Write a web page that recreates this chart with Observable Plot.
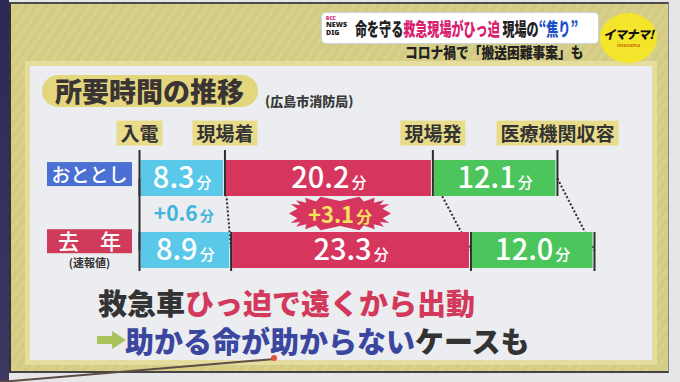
<!DOCTYPE html>
<html lang="ja">
<head>
<meta charset="utf-8">
<script src="https://cdn.jsdelivr.net/npm/d3@7"></script>
<script src="https://cdn.jsdelivr.net/npm/@observablehq/plot@0.6"></script>
<style>
  html, body { margin: 0; padding: 0; background: #e6e6e8; overflow: hidden; }
  #stage { position: relative; width: 680px; height: 382px; overflow: hidden;
    font-family: "Noto Sans CJK JP", "Noto Sans", sans-serif; background: #e6e6e8; }
  #stage > div { position: absolute; }
  .studioL { left: 0; top: 0; width: 9px; height: 382px; background: linear-gradient(#2b2a55, #3d3762); }
  .board { left: 9px; top: 2px; width: 660px; height: 371px; box-sizing: border-box;
    background: repeating-linear-gradient(125deg, #d8d08a 0 4px, #d3cb84 4px 8px);
    border-top: 2px solid #4a4a48; border-left: 2px solid #333; border-bottom: 2px solid #444; border-right: 1px solid #888; }
  .panelFrame { left: 25px; top: 61px; width: 632px; height: 304px; background: #e4dd9e; }
  .panel { left: 30px; top: 66px; width: 622px; height: 294px; background: #ebedf0; }
  .banner { left: 322px; top: 13px; width: 276px; height: 30px; background: #fff; border-radius: 4px;
    box-shadow: 0 0 0 1px #c9d4e4; }
  .logo { position: absolute; left: 4px; top: 2px; font: 900 7px/8px "Noto Sans", sans-serif; color: #222; }
  .logo .rcc { color: #d8206e; font-size: 5px; line-height: 6px; }
  .btxt { position: absolute; left: 33px; top: 2px; font-size: 18px; font-weight: 900; line-height: 26px;
    white-space: nowrap; transform: scaleX(0.67); transform-origin: left center; }
  .sub { left: 405px; top: 43px; font-size: 15px; font-weight: 900; line-height: 18px; color: #222;
    white-space: nowrap; transform: scaleX(0.85); transform-origin: left center; }
  .imanama { left: 600px; top: 13px; width: 57px; height: 50px; border-radius: 50%; background: #f3e52c; text-align: center; }
  .imanama .im { margin-top: 14px; font-size: 12px; font-weight: 900; font-style: italic; line-height: 14px; color: #111;
    white-space: nowrap; letter-spacing: -0.5px; }
  .imanama .ims { margin-top: 1px; font-size: 5px; line-height: 6px; color: #d07000; font-weight: 700; white-space: nowrap; }
  .pill { left: 42px; top: 75px; width: 216px; height: 32px; border-radius: 16px; background: #e4d67c;
    box-sizing: border-box; padding-left: 13px; font-size: 27px; font-weight: 900; line-height: 32px; color: #3b3434; white-space: nowrap; }
  .src { left: 265px; top: 92px; font-size: 13px; font-weight: 900; line-height: 18px; color: #3a3a3a; white-space: nowrap; }
  #chart { left: 0; top: 0; width: 680px; height: 382px; }
  #chart svg { background: transparent !important; overflow: visible; max-width: none; }
  .msg { font-size: 29px; font-weight: 900; line-height: 34px; white-space: nowrap; }
  .msg1 { left: 98px; top: 285px; }
  .msg2 { left: 125px; top: 323px; }
  .arrow { left: 97px; top: 331px; width: 29px; height: 18px; background: #a8c25c;
    clip-path: polygon(0 28%, 52% 28%, 52% 0, 100% 50%, 52% 100%, 52% 72%, 0 72%); }
  .pointer { left: 0; top: 381px; width: 276px; height: 2px; background: #5c4d45; transform-origin: left center; transform: rotate(-4.8deg); }
  .tip { left: 271px; top: 355px; width: 6px; height: 6px; border-radius: 50%; background: #e0503a; }
</style>
</head>
<body>
<div id="stage">
  <div class="studioL"></div>
  <div class="board"></div>
  <div class="panelFrame"></div>
  <div class="panel"></div>
  <div class="banner">
    <div class="logo"><div class="rcc">RCC</div><div>NEWS</div><div>DIG</div></div>
    <div class="btxt"><span style="color:#222">命を守る</span><span style="color:#d8206e">救急現場がひっ迫</span><span style="color:#222">&nbsp;現場の</span><span style="color:#1d4fc4">“焦り”</span></div>
  </div>
  <div class="sub">コロナ禍で「搬送困難事案」も</div>
  <div class="imanama"><div class="im">イマナマ!</div><div class="ims">imanama</div></div>
  <div class="pill">所要時間の推移</div>
  <div class="src">(広島市消防局)</div>
  <div id="chart"></div>
  <div class="msg msg1"><span style="color:#333">救急車</span><span style="color:#d2395b">ひっ迫で遠くから出動</span></div>
  <div class="arrow"></div>
  <div class="msg msg2"><span style="color:#3b479f">助かる命が助からない</span><span style="color:#333">ケースも</span></div>
  <div class="pointer"></div>
  <div class="tip"></div>
</div>
<script>
// ---- data ----
const rows = ["おととし", "去年"];
const rowNotes = ["", "(速報値)"];
const changeRow = "増減";
const stages = ["入電〜現場着", "現場着〜現場発", "現場発〜医療機関収容"];
const milestones = ["入電", "現場着", "現場発", "医療機関収容"];
const minutesTwoYearsAgo = [8.3, 20.2, 12.1];
const minutesLastYear = [8.9, 23.3, 12.0];
const changeLabels = ["+0.6分", "+3.1分"];

// ---- derived tables ----
const series = [minutesTwoYearsAgo, minutesLastYear];
const table = rows.flatMap((row, i) => stages.map((stage, j) => ({row, stage, minutes: series[i][j]})));
const cum = series.map(s => [0, ...d3.cumsum(s)]);
const boundaries = rows.flatMap((row, i) => cum[i].map((x, j) => ({row, x, j})));
const connectors = cum[0].map((x1, j) => ({x1, x2: cum[1][j], j}));
const mids = series.map((s, i) => s.map((v, j) => cum[i][j] + v / 2));
const deltas = changeLabels.map((_, j) => series[1][j] - series[0][j]);
const changes = changeLabels.map((label, j) => ({label, j, delta: deltas[j], x: (mids[0][j] + mids[1][j]) / 2}));
const biggest = d3.maxIndex(deltas);
const maxTotal = d3.max(cum, c => c[c.length - 1]);

const INK = "#2e2e2e";
const burst = {
  draw(ctx) {
    const n = 18;
    for (let k = 0; k < 2 * n; k++) {
      const a = Math.PI * k / n;
      const c = Math.cos(a), s = Math.sin(a);
      const [rx, ry] = k % 2 ? [43, 12.5] : [51, 17];
      const px = Math.sign(c) * Math.pow(Math.abs(c), 0.55) * rx;
      const py = Math.sign(s) * Math.pow(Math.abs(s), 0.55) * ry;
      k ? ctx.lineTo(px, py) : ctx.moveTo(px, py);
    }
    ctx.closePath();
  }
};

const chart = Plot.plot({
  width: 680, height: 382,
  marginLeft: 139, marginRight: 86, marginTop: 160, marginBottom: 114,
  style: {background: "transparent", fontFamily: "'Noto Sans CJK JP', 'Noto Sans', sans-serif", overflow: "visible"},
  x: {domain: [0, maxTotal], axis: null},
  y: {domain: [rows[0], changeRow, rows[1]], padding: 0, axis: null},
  color: {domain: stages, range: ["#5ac8e8", "#d6365d", "#4cc65c"]},
  marks: [
    Plot.link(connectors.filter(d => d.j > 0), {x1: "x1", x2: "x2", y1: () => rows[0], y2: () => rows[1],
      stroke: INK, strokeWidth: 2, strokeDasharray: "2,2"}),
    Plot.link(connectors.filter(d => d.j === 0), {x1: "x1", x2: "x2", y1: () => rows[0], y2: () => rows[1],
      stroke: INK, strokeWidth: 2}),
    Plot.barX(table, {x: "minutes", y: "row", fill: "stage", insetLeft: 1.5, insetRight: 1.5}),
    Plot.tickX(boundaries.filter(d => d.row === rows[0]), {x: "x", y: "row", stroke: INK, strokeWidth: 2, insetTop: -10}),
    Plot.tickX(boundaries.filter(d => d.row === rows[1]), {x: "x", y: "row", stroke: INK, strokeWidth: 2, insetBottom: -3}),
    Plot.text(table, Plot.stackX({x: "minutes", y: "row", text: d => d.minutes.toFixed(1) + "分",
      fill: "white", fontSize: 29, fontWeight: 500, ariaDescription: "values"})),
    Plot.dot(changes.filter(d => d.j === biggest), {x: "x", y: () => changeRow, symbol: burst, fill: "#d6365d", dy: -1}),
    Plot.text(changes.filter(d => d.j !== biggest), {x: "x", y: () => changeRow, text: "label",
      fill: "#41b3dc", fontSize: 21, fontWeight: 700, dy: 0, ariaDescription: "change-small"}),
    Plot.text(changes.filter(d => d.j === biggest), {x: "x", y: () => changeRow, text: "label",
      fill: "#f6e25c", fontSize: 22, fontWeight: 700, dy: 1, ariaDescription: "change-big"}),
    Plot.text(milestones, {x: (d, i) => cum[0][i], y: () => rows[0], dy: -44, text: d => d,
      fill: "#333", fontSize: 19, fontWeight: 700, ariaDescription: "milestones"}),
    Plot.text([rows[0]], {y: d => d, text: d => d, frameAnchor: "left", textAnchor: "middle", dx: -50, dy: -3,
      fill: "white", fontSize: 19, fontWeight: 500, ariaDescription: "row-0"}),
    Plot.text([rows[1]], {y: d => d, text: d => [...d].join("\u3000"), frameAnchor: "left", textAnchor: "middle", dx: -50, dy: -8,
      fill: "white", fontSize: 21, fontWeight: 500, ariaDescription: "row-1"}),
    Plot.text([rows[1]], {y: d => d, text: () => rowNotes[1], frameAnchor: "left", textAnchor: "middle", dx: -50, dy: 13,
      fill: "#333", fontSize: 11, fontWeight: 700})
  ]
});
document.getElementById("chart").append(chart);

// ---- styling touches on the rendered text ----
const NS = "http://www.w3.org/2000/svg";
function texts(label) {
  return chart.querySelectorAll(`g[aria-description="${label}"] text`);
}
function splitUnit(label, unitSize) {
  texts(label).forEach(t => {
    const s = t.textContent;
    if (!s.endsWith("分")) return;
    t.textContent = s.slice(0, -1);
    const ts = document.createElementNS(NS, "tspan");
    ts.setAttribute("font-size", unitSize);
    ts.setAttribute("dx", 2);
    ts.textContent = "分";
    t.appendChild(ts);
  });
}
function addBoxes(label, fill, {padX = 4, width, height = 24} = {}) {
  texts(label).forEach(t => {
    const b = t.getBBox();
    const w = width ?? b.width + 2 * padX;
    const cy = b.y + b.height / 2 + 1;
    const r = document.createElementNS(NS, "rect");
    r.setAttribute("x", b.x + b.width / 2 - w / 2);
    r.setAttribute("y", cy - height / 2);
    r.setAttribute("width", w);
    r.setAttribute("height", height);
    r.setAttribute("fill", fill);
    const tr = t.getAttribute("transform");
    if (tr) r.setAttribute("transform", tr);
    t.parentNode.insertBefore(r, t);
  });
}
splitUnit("values", 15);
splitUnit("change-small", 14);
splitUnit("change-big", 16);
addBoxes("milestones", "#e8dc8a", {padX: 4, height: 25});
addBoxes("row-0", "#4a70d4", {width: 85, height: 24});
addBoxes("row-1", "#d03b5c", {width: 85, height: 24});
</script>
</body>
</html>
